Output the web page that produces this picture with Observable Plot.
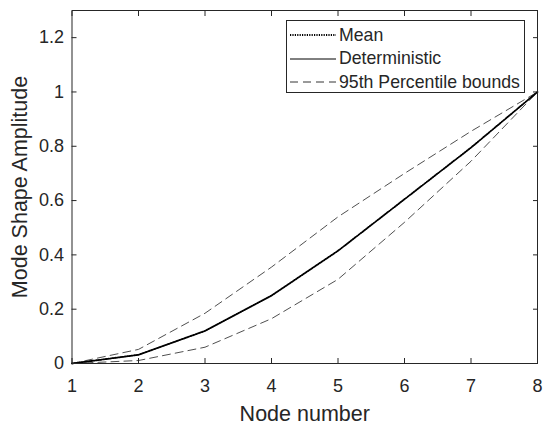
<!DOCTYPE html>
<html>
<head>
<meta charset="utf-8">
<script src="https://cdn.jsdelivr.net/npm/d3@7"></script>
<script src="https://cdn.jsdelivr.net/npm/@observablehq/plot@0.6"></script>
<style>
  html, body { margin: 0; padding: 0; background: #fff; }
  #wrap { position: relative; width: 544px; height: 428px; font-family: "Liberation Sans", Arial, sans-serif; color: #262626; }
  #legend { position: absolute; left: 286px; top: 20px; width: 237px; height: 71px; border: 1px solid #262626; background: #fff; font-size: 17.7px; }
  .row { position: absolute; left: 0; height: 22px; display: flex; align-items: center; }
  .row svg { margin-left: 3px; margin-right: 3px; }
</style>
</head>
<body>
<div id="wrap"></div>
<script>
const nodes = [1, 2, 3, 4, 5, 6, 7, 8];
const deterministic = [0, 0.032, 0.12, 0.25, 0.415, 0.605, 0.795, 1];
const meanVals = [0, 0.032, 0.12, 0.25, 0.415, 0.605, 0.795, 1];
const upperBound = [0, 0.052, 0.185, 0.355, 0.54, 0.70, 0.855, 1];
const lowerBound = [0, 0.011, 0.06, 0.165, 0.31, 0.52, 0.745, 1];
const xTicks = [1, 2, 3, 4, 5, 6, 7, 8];
const xTickLabels = ["1", "2", "3", "4", "5", "6", "7", "8"];
const yTicks = [0, 0.2, 0.4, 0.6, 0.8, 1, 1.2];
const yTickLabels = ["0", "0.2", "0.4", "0.6", "0.8", "1", "1.2"];
const legendLabels = ["Mean", "Deterministic", "95th Percentile bounds"];

const toRows = (vals) => nodes.map((n, i) => ({x: n, y: vals[i]}));
const axisColor = "#262626";
const xFmt = d => xTickLabels[xTicks.indexOf(d)];
const yFmt = d => yTickLabels[yTicks.findIndex(t => Math.abs(t - d) < 1e-9)];
const blank = () => "";

const chart = Plot.plot({
  width: 544,
  height: 428,
  marginLeft: 71.5,
  marginRight: 7,
  marginTop: 10,
  marginBottom: 65,
  style: {fontFamily: "'Liberation Sans', Arial, sans-serif", fontSize: "18px", color: axisColor, background: "#fff", overflow: "visible"},
  x: {domain: [1, 8]},
  y: {domain: [0, 1.3]},
  marks: [
    Plot.axisX({ticks: xTicks, tickFormat: xFmt, tickSize: 0, tickPadding: 16, fontSize: 18, label: null}),
    Plot.axisX({ticks: xTicks, tickFormat: blank, tickSize: -5, stroke: axisColor, label: null}),
    Plot.axisX({anchor: "top", ticks: xTicks, tickFormat: blank, tickSize: -5, stroke: axisColor, label: null}),
    Plot.axisY({ticks: yTicks, tickFormat: yFmt, tickSize: 0, tickPadding: 8, fontSize: 18, label: null}),
    Plot.axisY({ticks: yTicks, tickFormat: blank, tickSize: -5, stroke: axisColor, label: null}),
    Plot.axisY({anchor: "right", ticks: yTicks, tickFormat: blank, tickSize: -5, stroke: axisColor, label: null}),
    Plot.line(toRows(upperBound), {x: "x", y: "y", stroke: "#222", strokeWidth: 0.8, strokeDasharray: "8,5"}),
    Plot.line(toRows(lowerBound), {x: "x", y: "y", stroke: "#222", strokeWidth: 0.8, strokeDasharray: "8,5"}),
    Plot.line(toRows(deterministic), {x: "x", y: "y", stroke: "#000", strokeWidth: 1}),
    Plot.line(toRows(meanVals), {x: "x", y: "y", stroke: "#000", strokeWidth: 1.8, strokeDasharray: "1.2,1.2"}),
    Plot.frame({stroke: axisColor, strokeWidth: 1}),
    Plot.text(["Node number"], {frameAnchor: "bottom", lineAnchor: "middle", textAnchor: "middle", dy: 51, fontSize: 21.5, fill: axisColor}),
    Plot.text(["Mode Shape Amplitude"], {frameAnchor: "left", lineAnchor: "middle", textAnchor: "middle", rotate: -90, dx: -51.5, fontSize: 21.5, fill: axisColor})
  ]
});

const wrap = document.getElementById("wrap");
wrap.appendChild(chart);

const legend = document.createElement("div");
legend.id = "legend";
const dashes = ["1.2,1.2", null, "8,5"];
const widths = [1.8, 1, 0.8];
legendLabels.forEach((lab, i) => {
  const row = document.createElement("div");
  row.className = "row";
  row.style.top = (3 + i * 23.5) + "px";
  row.innerHTML = `<svg width="46" height="10"><line x1="0" x2="46" y1="5" y2="5" stroke="#000" stroke-width="${widths[i]}" ${dashes[i] ? `stroke-dasharray="${dashes[i]}"` : ""}/></svg><span>${lab}</span>`;
  legend.appendChild(row);
});
wrap.appendChild(legend);
</script>
</body>
</html>
